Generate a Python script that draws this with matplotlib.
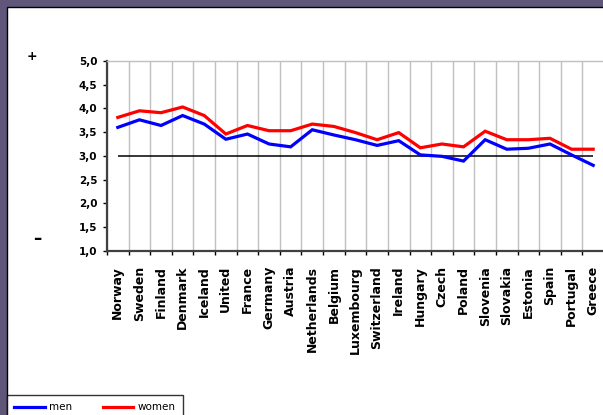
import numpy as np
import matplotlib
matplotlib.use("Agg")
import matplotlib.pyplot as plt
from matplotlib.patches import Rectangle
from matplotlib.ticker import FixedLocator

# Data
countries = ["Norway", "Sweden", "Finland", "Denmark", "Iceland", "United", "France",
             "Germany", "Austria", "Netherlands", "Belgium", "Luxembourg", "Switzerland",
             "Ireland", "Hungary", "Czech", "Poland", "Slovenia", "Slovakia", "Estonia",
             "Spain", "Portugal", "Greece"]
men = [3.60, 3.76, 3.64, 3.85, 3.67, 3.35, 3.46, 3.25, 3.19, 3.55, 3.44, 3.34, 3.22,
       3.32, 3.02, 2.99, 2.89, 3.34, 3.14, 3.16, 3.25, 3.02, 2.80]
women = [3.81, 3.95, 3.91, 4.03, 3.85, 3.46, 3.64, 3.53, 3.53, 3.67, 3.62, 3.49, 3.34,
         3.49, 3.17, 3.25, 3.19, 3.52, 3.34, 3.34, 3.37, 3.14, 3.14]
baseline = 3.0
yticks = [1.0, 1.5, 2.0, 2.5, 3.0, 3.5, 4.0, 4.5, 5.0]

W, H = 603, 415
fig = plt.figure(figsize=(W / 100, H / 100), dpi=100)
fig.patch.set_facecolor("#5f5679")

# white panel with dark border
panel = Rectangle((7 / W, -0.1), 1.2, 1 - 7 / H + 0.1, transform=fig.transFigure,
                  facecolor="white", edgecolor="black", lw=1.0, zorder=-5)
fig.patches.append(panel)

ax = fig.add_axes([107 / W, 1 - 250.7 / H, 497 / W, 189.7 / H])
ax.set_zorder(1)
ax.set_facecolor("white")
x = np.arange(len(countries))

ax.plot(x, men, color="#0000ff", lw=2.3, solid_joinstyle="miter", zorder=3)
ax.plot(x, women, color="#ff0000", lw=2.3, solid_joinstyle="miter", zorder=3)
ax.hlines(baseline, x[0], x[-1], color="black", lw=1.1, zorder=2)

ax.set_xlim(-0.5, len(countries) - 0.5)
ax.set_ylim(1.0, 5.0)

ax.set_yticks(yticks)
ax.set_yticklabels([f"{v:.1f}".replace(".", ",") for v in yticks],
                   fontsize=7.5, fontweight="bold")

ax.set_xticks(x)
ax.set_xticklabels(countries, rotation=90, fontsize=9, fontweight="bold", va="top")
ax.xaxis.set_minor_locator(FixedLocator(np.arange(len(countries) + 1) - 0.5))
ax.tick_params(axis="x", which="major", length=0, pad=11)
ax.tick_params(axis="x", which="minor", length=3, width=1, direction="out", color="black")
ax.tick_params(axis="y", length=3, width=1, direction="out", pad=4, color="black")
ax.grid(axis="x", which="minor", color="#c0c0c0", lw=1.0)
ax.set_axisbelow(True)

for s in ["left", "bottom"]:
    ax.spines[s].set_color("#404040")
    ax.spines[s].set_linewidth(1.6)
ax.spines["right"].set_visible(False)
ax.spines["top"].set_color("#c0c0c0")
ax.spines["top"].set_linewidth(1.0)

fig.text(32 / W, 1 - 57 / H, "+", fontsize=9, fontweight="bold", ha="center", va="center")
fig.text(37 / W, 1 - 239 / H, "–", fontsize=12, fontweight="bold", ha="center", va="center")

leg = fig.legend(handles=ax.lines[:2], labels=["men", "women"], ncol=2,
                 loc="upper left", bbox_to_anchor=(7 / W, 1 - 395 / H),
                 fontsize=7.5, frameon=True, fancybox=False, edgecolor="black",
                 handlelength=2.9, handletextpad=0.4, columnspacing=3.0,
                 borderpad=0.7, borderaxespad=0)
leg.get_frame().set_linewidth(1.0)
for ln in leg.get_lines():
    ln.set_linewidth(2.3)

fig.savefig("out.png", dpi=100, facecolor=fig.get_facecolor())
